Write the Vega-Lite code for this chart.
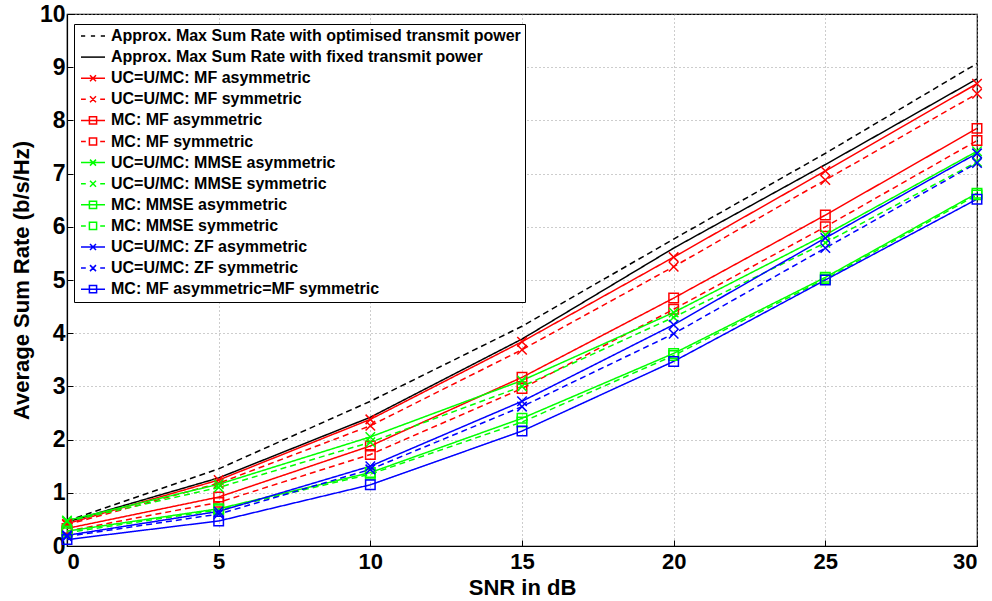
{
  "$schema": "https://vega.github.io/schema/vega-lite/v6.json",
  "width": 910,
  "height": 532,
  "autosize": "none",
  "padding": {"left": 67, "top": 14, "right": 15, "bottom": 55},
  "background": "white",
  "config": {
    "font": "Liberation Sans",
    "view": {"stroke": "black", "strokeWidth": 1.2},
    "axis": {
      "domainColor": "black",
      "domainWidth": 1.2,
      "grid": true,
      "gridColor": "#9a9a9a",
      "gridDash": [1, 3],
      "gridWidth": 1,
      "tickColor": "black",
      "tickSize": -6,
      "labelFont": "Liberation Sans",
      "labelFontWeight": "bold",
      "labelFontSize": 23,
      "labelColor": "black",
      "titleFont": "Liberation Sans",
      "titleFontWeight": "bold",
      "titleFontSize": 22,
      "titleColor": "black"
    },
    "legend": {
      "title": null,
      "orient": "none",
      "legendX": 7,
      "legendY": 10,
      "fillColor": "white",
      "strokeColor": "black",
      "padding": 4,
      "cornerRadius": 0,
      "labelFont": "Liberation Sans",
      "labelFontWeight": "bold",
      "labelFontSize": 16,
      "labelColor": "black",
      "labelLimit": 600,
      "symbolSize": 144,
      "symbolStrokeWidth": 1.5,
      "symbolOpacity": 1,
      "symbolOffset": 7,
      "labelOffset": 10,
      "rowPadding": 5.1
    }
  },
  "data": {
    "values": [
      {"series": "Approx. Max Sum Rate with optimised transmit power", "snr": 0, "rate": 0.47},
      {"series": "Approx. Max Sum Rate with optimised transmit power", "snr": 5, "rate": 1.45},
      {"series": "Approx. Max Sum Rate with optimised transmit power", "snr": 10, "rate": 2.72},
      {"series": "Approx. Max Sum Rate with optimised transmit power", "snr": 15, "rate": 4.13},
      {"series": "Approx. Max Sum Rate with optimised transmit power", "snr": 20, "rate": 5.77},
      {"series": "Approx. Max Sum Rate with optimised transmit power", "snr": 25, "rate": 7.38},
      {"series": "Approx. Max Sum Rate with optimised transmit power", "snr": 30, "rate": 9.07},
      {"series": "Approx. Max Sum Rate with fixed transmit power", "snr": 0, "rate": 0.45},
      {"series": "Approx. Max Sum Rate with fixed transmit power", "snr": 5, "rate": 1.28},
      {"series": "Approx. Max Sum Rate with fixed transmit power", "snr": 10, "rate": 2.42},
      {"series": "Approx. Max Sum Rate with fixed transmit power", "snr": 15, "rate": 3.89},
      {"series": "Approx. Max Sum Rate with fixed transmit power", "snr": 20, "rate": 5.6},
      {"series": "Approx. Max Sum Rate with fixed transmit power", "snr": 25, "rate": 7.17},
      {"series": "Approx. Max Sum Rate with fixed transmit power", "snr": 30, "rate": 8.78},
      {"series": "UC=U/MC: MF asymmetric", "snr": 0, "rate": 0.42},
      {"series": "UC=U/MC: MF asymmetric", "snr": 5, "rate": 1.24},
      {"series": "UC=U/MC: MF asymmetric", "snr": 10, "rate": 2.38},
      {"series": "UC=U/MC: MF asymmetric", "snr": 15, "rate": 3.84},
      {"series": "UC=U/MC: MF asymmetric", "snr": 20, "rate": 5.43},
      {"series": "UC=U/MC: MF asymmetric", "snr": 25, "rate": 7.05},
      {"series": "UC=U/MC: MF asymmetric", "snr": 30, "rate": 8.69},
      {"series": "UC=U/MC: MF symmetric", "snr": 0, "rate": 0.4},
      {"series": "UC=U/MC: MF symmetric", "snr": 5, "rate": 1.18},
      {"series": "UC=U/MC: MF symmetric", "snr": 10, "rate": 2.26},
      {"series": "UC=U/MC: MF symmetric", "snr": 15, "rate": 3.69},
      {"series": "UC=U/MC: MF symmetric", "snr": 20, "rate": 5.25},
      {"series": "UC=U/MC: MF symmetric", "snr": 25, "rate": 6.88},
      {"series": "UC=U/MC: MF symmetric", "snr": 30, "rate": 8.5},
      {"series": "MC: MF asymmetric", "snr": 0, "rate": 0.33},
      {"series": "MC: MF asymmetric", "snr": 5, "rate": 0.92},
      {"series": "MC: MF asymmetric", "snr": 10, "rate": 1.88},
      {"series": "MC: MF asymmetric", "snr": 15, "rate": 3.17},
      {"series": "MC: MF asymmetric", "snr": 20, "rate": 4.66},
      {"series": "MC: MF asymmetric", "snr": 25, "rate": 6.22},
      {"series": "MC: MF asymmetric", "snr": 30, "rate": 7.85},
      {"series": "MC: MF symmetric", "snr": 0, "rate": 0.28},
      {"series": "MC: MF symmetric", "snr": 5, "rate": 0.82},
      {"series": "MC: MF symmetric", "snr": 10, "rate": 1.72},
      {"series": "MC: MF symmetric", "snr": 15, "rate": 2.96},
      {"series": "MC: MF symmetric", "snr": 20, "rate": 4.45},
      {"series": "MC: MF symmetric", "snr": 25, "rate": 6.0},
      {"series": "MC: MF symmetric", "snr": 30, "rate": 7.62},
      {"series": "UC=U/MC: MMSE asymmetric", "snr": 0, "rate": 0.48},
      {"series": "UC=U/MC: MMSE asymmetric", "snr": 5, "rate": 1.16},
      {"series": "UC=U/MC: MMSE asymmetric", "snr": 10, "rate": 2.05},
      {"series": "UC=U/MC: MMSE asymmetric", "snr": 15, "rate": 3.11},
      {"series": "UC=U/MC: MMSE asymmetric", "snr": 20, "rate": 4.39},
      {"series": "UC=U/MC: MMSE asymmetric", "snr": 25, "rate": 5.85},
      {"series": "UC=U/MC: MMSE asymmetric", "snr": 30, "rate": 7.42},
      {"series": "UC=U/MC: MMSE symmetric", "snr": 0, "rate": 0.46},
      {"series": "UC=U/MC: MMSE symmetric", "snr": 5, "rate": 1.1},
      {"series": "UC=U/MC: MMSE symmetric", "snr": 10, "rate": 1.95},
      {"series": "UC=U/MC: MMSE symmetric", "snr": 15, "rate": 3.0},
      {"series": "UC=U/MC: MMSE symmetric", "snr": 20, "rate": 4.3},
      {"series": "UC=U/MC: MMSE symmetric", "snr": 25, "rate": 5.7},
      {"series": "UC=U/MC: MMSE symmetric", "snr": 30, "rate": 7.22},
      {"series": "MC: MMSE asymmetric", "snr": 0, "rate": 0.28},
      {"series": "MC: MMSE asymmetric", "snr": 5, "rate": 0.7},
      {"series": "MC: MMSE asymmetric", "snr": 10, "rate": 1.38},
      {"series": "MC: MMSE asymmetric", "snr": 15, "rate": 2.4},
      {"series": "MC: MMSE asymmetric", "snr": 20, "rate": 3.62},
      {"series": "MC: MMSE asymmetric", "snr": 25, "rate": 5.05},
      {"series": "MC: MMSE asymmetric", "snr": 30, "rate": 6.63},
      {"series": "MC: MMSE symmetric", "snr": 0, "rate": 0.25},
      {"series": "MC: MMSE symmetric", "snr": 5, "rate": 0.68},
      {"series": "MC: MMSE symmetric", "snr": 10, "rate": 1.35},
      {"series": "MC: MMSE symmetric", "snr": 15, "rate": 2.33},
      {"series": "MC: MMSE symmetric", "snr": 20, "rate": 3.58},
      {"series": "MC: MMSE symmetric", "snr": 25, "rate": 5.02},
      {"series": "MC: MMSE symmetric", "snr": 30, "rate": 6.6},
      {"series": "UC=U/MC: ZF asymmetric", "snr": 0, "rate": 0.2},
      {"series": "UC=U/MC: ZF asymmetric", "snr": 5, "rate": 0.65},
      {"series": "UC=U/MC: ZF asymmetric", "snr": 10, "rate": 1.5},
      {"series": "UC=U/MC: ZF asymmetric", "snr": 15, "rate": 2.72},
      {"series": "UC=U/MC: ZF asymmetric", "snr": 20, "rate": 4.16},
      {"series": "UC=U/MC: ZF asymmetric", "snr": 25, "rate": 5.79},
      {"series": "UC=U/MC: ZF asymmetric", "snr": 30, "rate": 7.38},
      {"series": "UC=U/MC: ZF symmetric", "snr": 0, "rate": 0.18},
      {"series": "UC=U/MC: ZF symmetric", "snr": 5, "rate": 0.6},
      {"series": "UC=U/MC: ZF symmetric", "snr": 10, "rate": 1.44},
      {"series": "UC=U/MC: ZF symmetric", "snr": 15, "rate": 2.62},
      {"series": "UC=U/MC: ZF symmetric", "snr": 20, "rate": 3.99},
      {"series": "UC=U/MC: ZF symmetric", "snr": 25, "rate": 5.6},
      {"series": "UC=U/MC: ZF symmetric", "snr": 30, "rate": 7.2},
      {"series": "MC: MF asymmetric=MF symmetric", "snr": 0, "rate": 0.12},
      {"series": "MC: MF asymmetric=MF symmetric", "snr": 5, "rate": 0.47},
      {"series": "MC: MF asymmetric=MF symmetric", "snr": 10, "rate": 1.15},
      {"series": "MC: MF asymmetric=MF symmetric", "snr": 15, "rate": 2.16},
      {"series": "MC: MF asymmetric=MF symmetric", "snr": 20, "rate": 3.47},
      {"series": "MC: MF asymmetric=MF symmetric", "snr": 25, "rate": 5.0},
      {"series": "MC: MF asymmetric=MF symmetric", "snr": 30, "rate": 6.52}
    ]
  },
  "encoding": {
    "x": {
      "field": "snr", "type": "quantitative",
      "scale": {"domain": [0, 30], "nice": false},
      "axis": {"values": [0, 5, 10, 15, 20, 25, 30], "title": "SNR in dB", "labelPadding": 11, "labelFontSize": 22, "titleY": 48, "titleBaseline": "alphabetic"}
    },
    "y": {
      "field": "rate", "type": "quantitative",
      "scale": {"domain": [0, 10], "nice": false},
      "axis": {"values": [0, 1, 2, 3, 4, 5, 6, 7, 8, 9, 10], "title": "Average Sum Rate (b/s/Hz)", "labelPadding": 8, "titleX": -39, "titleY": 266, "titleBaseline": "alphabetic", "titleAlign": "center", "titleAngle": -90}
    }
  },
  "layer": [
    {
      "mark": {"type": "line", "strokeWidth": 1.5, "clip": true},
      "encoding": {
        "color": {
          "field": "series", "type": "nominal",
          "scale": {
            "domain": ["Approx. Max Sum Rate with optimised transmit power", "Approx. Max Sum Rate with fixed transmit power", "UC=U/MC: MF asymmetric", "UC=U/MC: MF symmetric", "MC: MF asymmetric", "MC: MF symmetric", "UC=U/MC: MMSE asymmetric", "UC=U/MC: MMSE symmetric", "MC: MMSE asymmetric", "MC: MMSE symmetric", "UC=U/MC: ZF asymmetric", "UC=U/MC: ZF symmetric", "MC: MF asymmetric=MF symmetric"],
            "range": ["#000000", "#000000", "#ff0000", "#ff0000", "#ff0000", "#ff0000", "#00ff00", "#00ff00", "#00ff00", "#00ff00", "#0000ff", "#0000ff", "#0000ff"]
          },
          "legend": null
        },
        "strokeDash": {
          "field": "series", "type": "nominal",
          "scale": {
            "domain": ["Approx. Max Sum Rate with optimised transmit power", "Approx. Max Sum Rate with fixed transmit power", "UC=U/MC: MF asymmetric", "UC=U/MC: MF symmetric", "MC: MF asymmetric", "MC: MF symmetric", "UC=U/MC: MMSE asymmetric", "UC=U/MC: MMSE symmetric", "MC: MMSE asymmetric", "MC: MMSE symmetric", "UC=U/MC: ZF asymmetric", "UC=U/MC: ZF symmetric", "MC: MF asymmetric=MF symmetric"],
            "range": [[6, 4], [1, 0], [1, 0], [6, 4], [1, 0], [6, 4], [1, 0], [6, 4], [1, 0], [6, 4], [1, 0], [6, 4], [1, 0]]
          },
          "legend": null
        }
      }
    },
    {
      "mark": {"type": "point", "filled": false, "strokeWidth": 1.5, "size": 90, "opacity": 1, "clip": false},
      "encoding": {
        "color": {
          "field": "series", "type": "nominal",
          "scale": {
            "domain": ["Approx. Max Sum Rate with optimised transmit power", "Approx. Max Sum Rate with fixed transmit power", "UC=U/MC: MF asymmetric", "UC=U/MC: MF symmetric", "MC: MF asymmetric", "MC: MF symmetric", "UC=U/MC: MMSE asymmetric", "UC=U/MC: MMSE symmetric", "MC: MMSE asymmetric", "MC: MMSE symmetric", "UC=U/MC: ZF asymmetric", "UC=U/MC: ZF symmetric", "MC: MF asymmetric=MF symmetric"],
            "range": ["#000000", "#000000", "#ff0000", "#ff0000", "#ff0000", "#ff0000", "#00ff00", "#00ff00", "#00ff00", "#00ff00", "#0000ff", "#0000ff", "#0000ff"]
          },
          "legend": null
        },
        "shape": {
          "field": "series", "type": "nominal",
          "scale": {
            "domain": ["Approx. Max Sum Rate with optimised transmit power", "Approx. Max Sum Rate with fixed transmit power", "UC=U/MC: MF asymmetric", "UC=U/MC: MF symmetric", "MC: MF asymmetric", "MC: MF symmetric", "UC=U/MC: MMSE asymmetric", "UC=U/MC: MMSE symmetric", "MC: MMSE asymmetric", "MC: MMSE symmetric", "UC=U/MC: ZF asymmetric", "UC=U/MC: ZF symmetric", "MC: MF asymmetric=MF symmetric"],
            "range": ["M0,0", "M0,0", "M-1,-1L1,1M-1,1L1,-1", "M-1,-1L1,1M-1,1L1,-1", "square", "square", "M-1,-1L1,1M-1,1L1,-1", "M-1,-1L1,1M-1,1L1,-1", "square", "square", "M-1,-1L1,1M-1,1L1,-1", "M-1,-1L1,1M-1,1L1,-1", "square"]
          },
          "legend": null
        }
      }
    },
    {
      "mark": {"type": "point", "filled": false, "strokeWidth": 1.5, "size": 1, "opacity": 0, "clip": true},
      "encoding": {
        "color": {
          "field": "series", "type": "nominal",
          "scale": {
            "domain": ["Approx. Max Sum Rate with optimised transmit power", "Approx. Max Sum Rate with fixed transmit power", "UC=U/MC: MF asymmetric", "UC=U/MC: MF symmetric", "MC: MF asymmetric", "MC: MF symmetric", "UC=U/MC: MMSE asymmetric", "UC=U/MC: MMSE symmetric", "MC: MMSE asymmetric", "MC: MMSE symmetric", "UC=U/MC: ZF asymmetric", "UC=U/MC: ZF symmetric", "MC: MF asymmetric=MF symmetric"],
            "range": ["#000000", "#000000", "#ff0000", "#ff0000", "#ff0000", "#ff0000", "#00ff00", "#00ff00", "#00ff00", "#00ff00", "#0000ff", "#0000ff", "#0000ff"]
          },
          "legend": {"title": null}
        },
        "shape": {
          "field": "series", "type": "nominal",
          "scale": {
            "domain": ["Approx. Max Sum Rate with optimised transmit power", "Approx. Max Sum Rate with fixed transmit power", "UC=U/MC: MF asymmetric", "UC=U/MC: MF symmetric", "MC: MF asymmetric", "MC: MF symmetric", "UC=U/MC: MMSE asymmetric", "UC=U/MC: MMSE symmetric", "MC: MMSE asymmetric", "MC: MMSE symmetric", "UC=U/MC: ZF asymmetric", "UC=U/MC: ZF symmetric", "MC: MF asymmetric=MF symmetric"],
            "range": ["M-2,0H-1.3M-0.35,0H0.35M1.3,0H2", "M-2,0H2", "M-2,0H2M-0.5,-0.5L0.5,0.5M-0.5,0.5L0.5,-0.5", "M-2,0H-1.2M1.2,0H2M-0.5,-0.5L0.5,0.5M-0.5,0.5L0.5,-0.5", "M-2,0H2M-0.6,-0.6H0.6V0.6H-0.6Z", "M-2,0H-1.2M1.2,0H2M-0.6,-0.6H0.6V0.6H-0.6Z", "M-2,0H2M-0.5,-0.5L0.5,0.5M-0.5,0.5L0.5,-0.5", "M-2,0H-1.2M1.2,0H2M-0.5,-0.5L0.5,0.5M-0.5,0.5L0.5,-0.5", "M-2,0H2M-0.6,-0.6H0.6V0.6H-0.6Z", "M-2,0H-1.2M1.2,0H2M-0.6,-0.6H0.6V0.6H-0.6Z", "M-2,0H2M-0.5,-0.5L0.5,0.5M-0.5,0.5L0.5,-0.5", "M-2,0H-1.2M1.2,0H2M-0.5,-0.5L0.5,0.5M-0.5,0.5L0.5,-0.5", "M-2,0H2M-0.6,-0.6H0.6V0.6H-0.6Z"]
          },
          "legend": {"title": null}
        }
      }
    }
  ],
  "resolve": {"scale": {"shape": "independent", "color": "independent"}}
}
